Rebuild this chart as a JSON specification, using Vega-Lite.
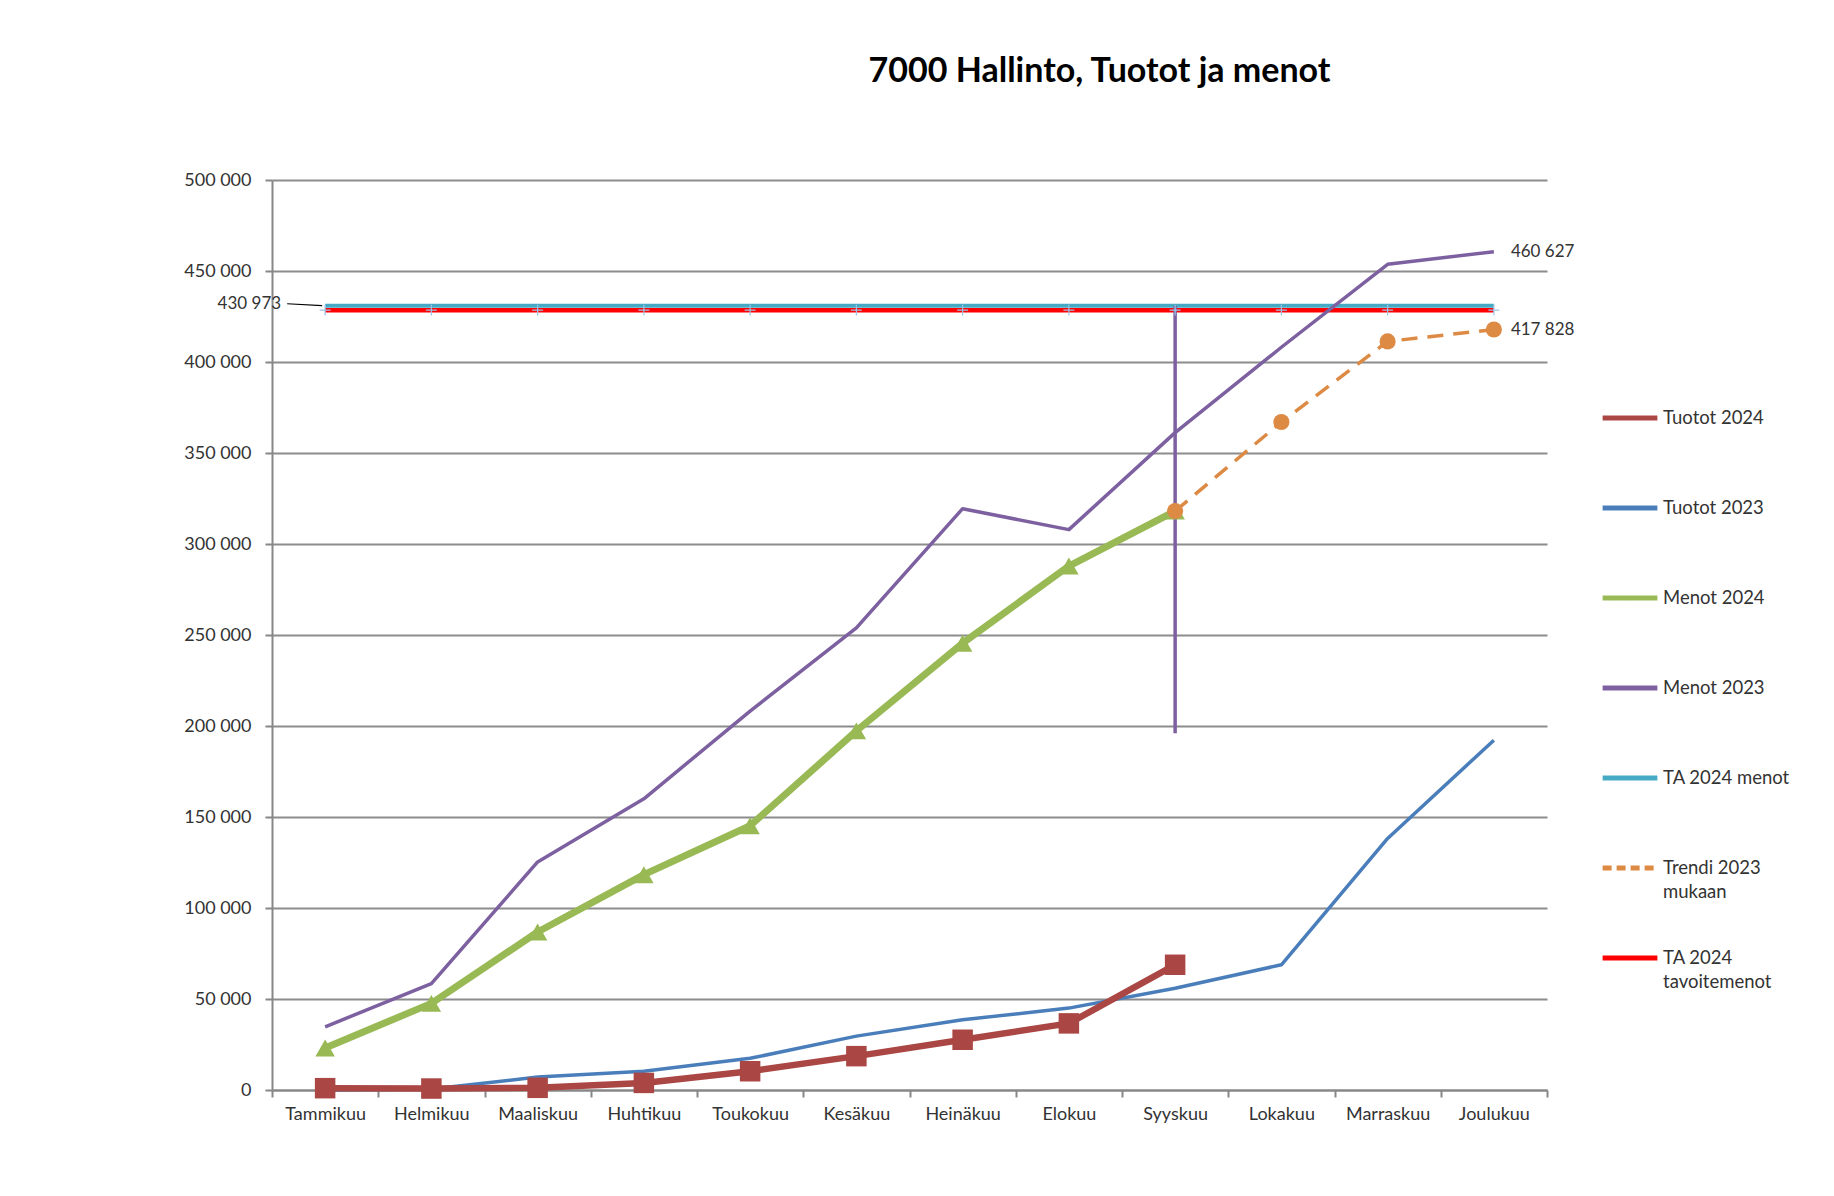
{
  "$schema": "https://vega.github.io/schema/vega-lite/v6.json",
  "width": 1275,
  "height": 910,
  "autosize": "none",
  "padding": {"left": 272, "top": 180, "right": 287, "bottom": 106},
  "background": "white",
  "config": {
    "locale": {"number": {"decimal": ",", "thousands": " ", "grouping": [3], "currency": ["", " €"]}},
    "font": "Lato",
    "view": {"stroke": null}
  },
  "title": {
    "text": "7000 Hallinto, Tuotot ja menot",
    "font": "Lato",
    "fontSize": 34,
    "fontWeight": "bold",
    "color": "#000000",
    "anchor": "middle",
    "dx": 190,
    "offset": 82
  },
  "datasets": {
    "series": [
      {"month": "Tammikuu", "series": "Tuotot 2024", "value": 1000},
      {"month": "Helmikuu", "series": "Tuotot 2024", "value": 800},
      {"month": "Maaliskuu", "series": "Tuotot 2024", "value": 1200},
      {"month": "Huhtikuu", "series": "Tuotot 2024", "value": 3900},
      {"month": "Toukokuu", "series": "Tuotot 2024", "value": 10300},
      {"month": "Kesäkuu", "series": "Tuotot 2024", "value": 18600},
      {"month": "Heinäkuu", "series": "Tuotot 2024", "value": 27600},
      {"month": "Elokuu", "series": "Tuotot 2024", "value": 36600},
      {"month": "Syyskuu", "series": "Tuotot 2024", "value": 68800},
      {"month": "Tammikuu", "series": "Tuotot 2023", "value": 0},
      {"month": "Helmikuu", "series": "Tuotot 2023", "value": 500},
      {"month": "Maaliskuu", "series": "Tuotot 2023", "value": 7100},
      {"month": "Huhtikuu", "series": "Tuotot 2023", "value": 10300},
      {"month": "Toukokuu", "series": "Tuotot 2023", "value": 17400},
      {"month": "Kesäkuu", "series": "Tuotot 2023", "value": 29600},
      {"month": "Heinäkuu", "series": "Tuotot 2023", "value": 38600},
      {"month": "Elokuu", "series": "Tuotot 2023", "value": 45000},
      {"month": "Syyskuu", "series": "Tuotot 2023", "value": 55900},
      {"month": "Lokakuu", "series": "Tuotot 2023", "value": 68800},
      {"month": "Marraskuu", "series": "Tuotot 2023", "value": 138200},
      {"month": "Joulukuu", "series": "Tuotot 2023", "value": 192200},
      {"month": "Tammikuu", "series": "Menot 2024", "value": 23100},
      {"month": "Helmikuu", "series": "Menot 2024", "value": 47600},
      {"month": "Maaliskuu", "series": "Menot 2024", "value": 86800},
      {"month": "Huhtikuu", "series": "Menot 2024", "value": 118300},
      {"month": "Toukokuu", "series": "Menot 2024", "value": 145200},
      {"month": "Kesäkuu", "series": "Menot 2024", "value": 197300},
      {"month": "Heinäkuu", "series": "Menot 2024", "value": 245500},
      {"month": "Elokuu", "series": "Menot 2024", "value": 287900},
      {"month": "Syyskuu", "series": "Menot 2024", "value": 318100},
      {"month": "Tammikuu", "series": "Menot 2023", "value": 34700},
      {"month": "Helmikuu", "series": "Menot 2023", "value": 58500},
      {"month": "Maaliskuu", "series": "Menot 2023", "value": 125300},
      {"month": "Huhtikuu", "series": "Menot 2023", "value": 160000},
      {"month": "Toukokuu", "series": "Menot 2023", "value": 208200},
      {"month": "Kesäkuu", "series": "Menot 2023", "value": 253900},
      {"month": "Heinäkuu", "series": "Menot 2023", "value": 319400},
      {"month": "Elokuu", "series": "Menot 2023", "value": 307900},
      {"month": "Syyskuu", "series": "Menot 2023", "value": 361200},
      {"month": "Lokakuu", "series": "Menot 2023", "value": 408100},
      {"month": "Marraskuu", "series": "Menot 2023", "value": 453700},
      {"month": "Joulukuu", "series": "Menot 2023", "value": 460627},
      {"month": "Tammikuu", "series": "TA 2024 menot", "value": 430973},
      {"month": "Helmikuu", "series": "TA 2024 menot", "value": 430973},
      {"month": "Maaliskuu", "series": "TA 2024 menot", "value": 430973},
      {"month": "Huhtikuu", "series": "TA 2024 menot", "value": 430973},
      {"month": "Toukokuu", "series": "TA 2024 menot", "value": 430973},
      {"month": "Kesäkuu", "series": "TA 2024 menot", "value": 430973},
      {"month": "Heinäkuu", "series": "TA 2024 menot", "value": 430973},
      {"month": "Elokuu", "series": "TA 2024 menot", "value": 430973},
      {"month": "Syyskuu", "series": "TA 2024 menot", "value": 430973},
      {"month": "Lokakuu", "series": "TA 2024 menot", "value": 430973},
      {"month": "Marraskuu", "series": "TA 2024 menot", "value": 430973},
      {"month": "Joulukuu", "series": "TA 2024 menot", "value": 430973},
      {"month": "Syyskuu", "series": "Trendi 2023 mukaan", "value": 318100},
      {"month": "Lokakuu", "series": "Trendi 2023 mukaan", "value": 367000},
      {"month": "Marraskuu", "series": "Trendi 2023 mukaan", "value": 411300},
      {"month": "Joulukuu", "series": "Trendi 2023 mukaan", "value": 417828},
      {"month": "Tammikuu", "series": "TA 2024 tavoitemenot", "value": 428500},
      {"month": "Helmikuu", "series": "TA 2024 tavoitemenot", "value": 428500},
      {"month": "Maaliskuu", "series": "TA 2024 tavoitemenot", "value": 428500},
      {"month": "Huhtikuu", "series": "TA 2024 tavoitemenot", "value": 428500},
      {"month": "Toukokuu", "series": "TA 2024 tavoitemenot", "value": 428500},
      {"month": "Kesäkuu", "series": "TA 2024 tavoitemenot", "value": 428500},
      {"month": "Heinäkuu", "series": "TA 2024 tavoitemenot", "value": 428500},
      {"month": "Elokuu", "series": "TA 2024 tavoitemenot", "value": 428500},
      {"month": "Syyskuu", "series": "TA 2024 tavoitemenot", "value": 428500},
      {"month": "Lokakuu", "series": "TA 2024 tavoitemenot", "value": 428500},
      {"month": "Marraskuu", "series": "TA 2024 tavoitemenot", "value": 428500},
      {"month": "Joulukuu", "series": "TA 2024 tavoitemenot", "value": 428500}
    ],
    "drop": [
      {"month": "Syyskuu", "top": 430973, "bottom": 196000}
    ],
    "leftLabel": [
      {"month": "Tammikuu", "value": 430973, "lead": 432000}
    ],
    "rightLabels": [
      {"month": "Joulukuu", "value": 460627},
      {"month": "Joulukuu", "value": 417828}
    ]
  },
  "encoding": {
    "x": {
      "field": "month",
      "type": "nominal",
      "bandPosition": 0.5,
      "sort": ["Tammikuu", "Helmikuu", "Maaliskuu", "Huhtikuu", "Toukokuu", "Kesäkuu", "Heinäkuu", "Elokuu", "Syyskuu", "Lokakuu", "Marraskuu", "Joulukuu"],
      "scale": {"type": "band", "paddingInner": 0, "paddingOuter": 0, "domain": ["Tammikuu", "Helmikuu", "Maaliskuu", "Huhtikuu", "Toukokuu", "Kesäkuu", "Heinäkuu", "Elokuu", "Syyskuu", "Lokakuu", "Marraskuu", "Joulukuu"]},
      "axis": {
        "title": null,
        "labelAngle": 0,
        "labelFont": "Lato",
        "labelFontSize": 18,
        "labelColor": "#333333",
        "labelPadding": 8,
        "domainColor": "#878787",
        "domainWidth": 2,
        "tickColor": "#878787",
        "tickWidth": 2,
        "tickSize": 7,
        "tickBand": "extent",
        "grid": false
      }
    },
    "y": {
      "field": "value",
      "type": "quantitative",
      "scale": {"domain": [0, 500000], "nice": false, "zero": true},
      "axis": {
        "title": null,
        "values": [0, 50000, 100000, 150000, 200000, 250000, 300000, 350000, 400000, 450000, 500000],
        "format": ",.0f",
        "labelFont": "Lato",
        "labelFontSize": 18,
        "labelColor": "#333333",
        "labelPadding": 14,
        "domainColor": "#878787",
        "domainWidth": 2,
        "tickColor": "#878787",
        "tickWidth": 2,
        "tickSize": 7,
        "grid": true,
        "gridColor": "#8C8C8C",
        "gridWidth": 2
      }
    },
    "color": {
      "field": "series",
      "type": "nominal",
      "scale": {
        "domain": ["Tuotot 2024", "Tuotot 2023", "Menot 2024", "Menot 2023", "TA 2024 menot", "Trendi 2023 mukaan", "TA 2024 tavoitemenot"],
        "range": ["#AA4643", "#4A7EBB", "#98B954", "#7D60A0", "#46AAC5", "#DD8A45", "#FF0000"]
      },
      "legend": {
        "title": null,
        "orient": "none",
        "legendX": 1328,
        "legendY": 208,
        "symbolType": "stroke",
        "symbolSize": 3000,
        "symbolStrokeWidth": 5,
        "labelFont": "Lato",
        "labelFontSize": 18.5,
        "labelColor": "#333333",
        "labelOffset": 3,
        "rowPadding": 26,
        "gridAlign": "all",
        "labelLimit": 300,
        "labelBaseline": "alphabetic",
        "labelExpr": "datum.label == 'Trendi 2023 mukaan' ? ['Trendi 2023', 'mukaan'] : (datum.label == 'TA 2024 tavoitemenot' ? ['TA 2024', 'tavoitemenot'] : datum.label)",
        "encode": {
          "labels": {"update": {"dy": {"value": 6}, "lineHeight": {"value": 24}}},
          "symbols": {"update": {
            "strokeDash": {"signal": "datum.value == 'Trendi 2023 mukaan' ? [9, 5] : [1, 0]"}
          }}
        }
      }
    }
  },
  "layer": [
    {
      "data": {"name": "series"},
      "transform": [{"filter": "datum.series == 'Tuotot 2023'"}],
      "mark": {"type": "line", "strokeWidth": 3.5, "strokeJoin": "round"},
      "encoding": {}
    },
    {
      "data": {"name": "series"},
      "transform": [{"filter": "datum.series == 'TA 2024 tavoitemenot'"}],
      "mark": {"type": "line", "strokeWidth": 4.5},
      "encoding": {}
    },
    {
      "data": {"name": "series"},
      "transform": [{"filter": "datum.series == 'TA 2024 menot'"}],
      "mark": {"type": "line", "strokeWidth": 4},
      "encoding": {}
    },
    {
      "data": {"name": "series"},
      "transform": [{"filter": "datum.series == 'Tuotot 2024'"}],
      "mark": {"type": "line", "strokeWidth": 6.5, "strokeJoin": "round"},
      "encoding": {}
    },
    {
      "data": {"name": "series"},
      "transform": [{"filter": "datum.series == 'Menot 2024'"}],
      "mark": {"type": "line", "strokeWidth": 7, "strokeJoin": "round"},
      "encoding": {}
    },
    {
      "data": {"name": "series"},
      "transform": [{"filter": "datum.series == 'Trendi 2023 mukaan'"}],
      "mark": {"type": "line", "strokeWidth": 3.5, "strokeDash": [16, 10]},
      "encoding": {}
    },
    {
      "data": {"name": "series"},
      "transform": [{"filter": "datum.series == 'Menot 2023'"}],
      "mark": {"type": "line", "strokeWidth": 3.5, "strokeJoin": "round"},
      "encoding": {}
    },
    {
      "data": {"name": "drop"},
      "mark": {"type": "rule", "strokeWidth": 3.5},
      "encoding": {
        "color": {"value": "#7D60A0"},
        "y": {"field": "top", "type": "quantitative"},
        "y2": {"field": "bottom"}
      }
    },
    {
      "data": {"name": "series"},
      "transform": [{"filter": "datum.series == 'Tuotot 2024'"}],
      "mark": {"type": "point", "shape": "square", "filled": true, "opacity": 1, "size": 420},
      "encoding": {}
    },
    {
      "data": {"name": "series"},
      "transform": [{"filter": "datum.series == 'Menot 2024'"}],
      "mark": {"type": "point", "shape": "triangle-up", "filled": true, "opacity": 1, "size": 380},
      "encoding": {}
    },
    {
      "data": {"name": "series"},
      "transform": [{"filter": "datum.series == 'Trendi 2023 mukaan'"}],
      "mark": {"type": "point", "shape": "circle", "filled": true, "opacity": 1, "size": 260},
      "encoding": {}
    },
    {
      "data": {"name": "series"},
      "transform": [{"filter": "datum.series == 'TA 2024 tavoitemenot'"}],
      "mark": {"type": "point", "shape": "M-1,0L1,0M0,-1L0,1", "filled": false, "opacity": 1, "size": 120, "strokeWidth": 1.2},
      "encoding": {"color": {"value": "#9DC3E6"}}
    },
    {
      "data": {"name": "leftLabel"},
      "mark": {"type": "text", "align": "right", "baseline": "middle", "dx": -44, "fontSize": 17, "font": "Lato"},
      "encoding": {
        "color": {"value": "#333333"},
        "y": {"field": "lead", "type": "quantitative"},
        "text": {"field": "value", "type": "quantitative", "format": ",.0f"}
      }
    },
    {
      "data": {"name": "leftLabel"},
      "mark": {"type": "rule", "strokeWidth": 1.2, "xOffset": -38, "x2Offset": -3},
      "encoding": {
        "color": {"value": "#000000"},
        "x2": {"field": "month"},
        "y": {"field": "lead", "type": "quantitative"},
        "y2": {"field": "value"}
      }
    },
    {
      "data": {"name": "rightLabels"},
      "mark": {"type": "text", "align": "left", "baseline": "middle", "dx": 17, "fontSize": 17, "font": "Lato"},
      "encoding": {
        "color": {"value": "#333333"},
        "text": {"field": "value", "type": "quantitative", "format": ",.0f"}
      }
    }
  ]
}
